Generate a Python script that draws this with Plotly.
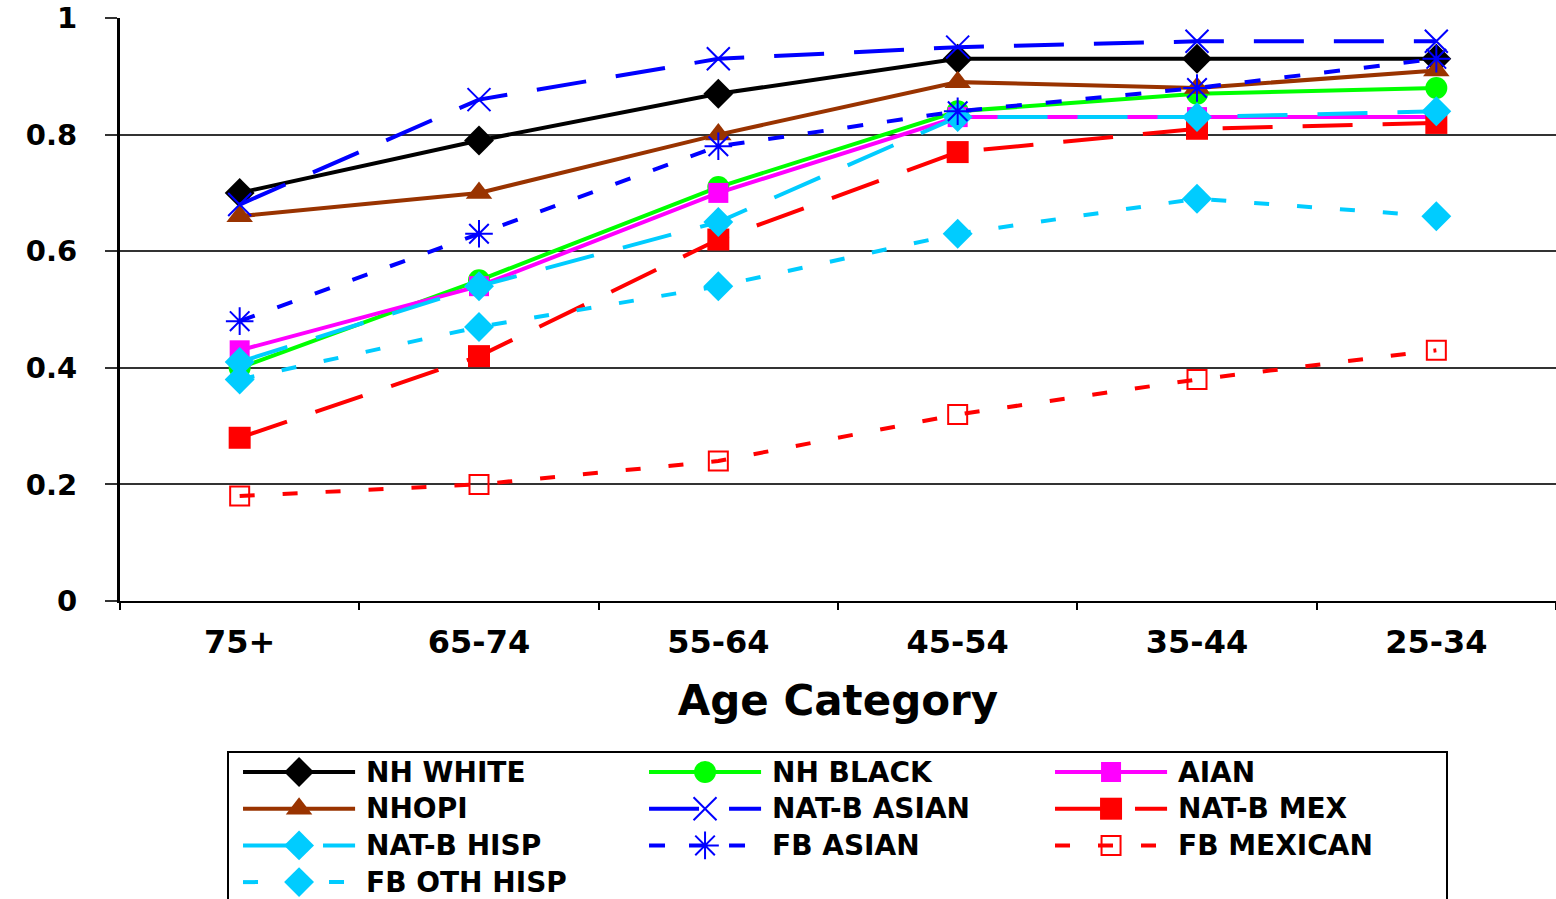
import plotly.graph_objects as go

# Age categories (oldest to youngest)
age_categories = ["75+", "65-74", "55-64", "45-54", "35-44", "25-34"]

# Share by group across age categories
nh_white    = [0.70, 0.79, 0.87, 0.93, 0.93, 0.93]
nh_black    = [0.40, 0.55, 0.71, 0.84, 0.87, 0.88]
aian        = [0.43, 0.54, 0.70, 0.83, 0.83, 0.83]
nhopi       = [0.66, 0.70, 0.80, 0.89, 0.88, 0.91]
natb_asian  = [0.68, 0.86, 0.93, 0.95, 0.96, 0.96]
natb_mex    = [0.28, 0.42, 0.62, 0.77, 0.81, 0.82]
natb_hisp   = [0.41, 0.54, 0.65, 0.83, 0.83, 0.84]
fb_asian    = [0.48, 0.63, 0.78, 0.84, 0.88, 0.93]
fb_mexican  = [0.18, 0.20, 0.24, 0.32, 0.38, 0.43]
fb_oth_hisp = [0.38, 0.47, 0.54, 0.63, 0.69, 0.66]

y_ticks = [0, 0.2, 0.4, 0.6, 0.8, 1]
y_tick_text = ["0", "0.2", "0.4", "0.6", "0.8", "1"]

LONG = "50px,30px"
SHORT_A = "16px,24px"
SHORT_B = "15px,28px"

series = [
    dict(name="NH WHITE", y=nh_white, color="#000000", dash="solid", symbol="diamond", size=23, open=False),
    dict(name="NH BLACK", y=nh_black, color="#00FF00", dash="solid", symbol="circle", size=22, open=False),
    dict(name="AIAN", y=aian, color="#FF00FF", dash="solid", symbol="square", size=20, open=False),
    dict(name="NHOPI", y=nhopi, color="#993300", dash="solid", symbol="triangle-up", size=23, open=False),
    dict(name="NAT-B ASIAN", y=natb_asian, color="#0000FF", dash=LONG, symbol="x-thin-open", size=23, open=True),
    dict(name="NAT-B MEX", y=natb_mex, color="#FF0000", dash=LONG, symbol="square", size=22, open=False),
    dict(name="NAT-B HISP", y=natb_hisp, color="#00CCFF", dash=LONG, symbol="diamond", size=23, open=False),
    dict(name="FB ASIAN", y=fb_asian, color="#0000FF", dash=SHORT_A, symbol="asterisk-open", size=23, open=True),
    dict(name="FB MEXICAN", y=fb_mexican, color="#FF0000", dash=SHORT_B, symbol="square-open", size=19, open=True),
    dict(name="FB OTH HISP", y=fb_oth_hisp, color="#00CCFF", dash=SHORT_B, symbol="diamond", size=23, open=False),
]

FONT = "DejaVu Sans"

fig = go.Figure()


def marker_style(s):
    if s["open"]:
        return dict(symbol=s["symbol"], size=s["size"], color=s["color"],
                    line=dict(color=s["color"], width=2))
    return dict(symbol=s["symbol"], size=s["size"], color=s["color"],
                line=dict(width=0))


for s in series:
    fig.add_trace(go.Scatter(
        x=age_categories, y=s["y"], name=s["name"], mode="lines+markers",
        line=dict(color=s["color"], width=4, dash=s["dash"]),
        marker=marker_style(s), showlegend=False, cliponaxis=False,
    ))

# Legend block drawn on its own hidden axes: 3 columns x 4 rows
n_cols = 3
sym_start, sym_end, text_start = 0.037, 0.313, 0.335
for i, s in enumerate(series):
    col, row = i % n_cols, i // n_cols
    x0, x1 = col + sym_start, col + sym_end
    fig.add_trace(go.Scatter(
        x=[x0, x1], y=[row, row], mode="lines", xaxis="x2", yaxis="y2",
        line=dict(color=s["color"], width=4, dash=s["dash"]),
        showlegend=False, hoverinfo="skip",
    ))
    fig.add_trace(go.Scatter(
        x=[(x0 + x1) / 2], y=[row], mode="markers", xaxis="x2", yaxis="y2",
        marker=marker_style(s), showlegend=False, hoverinfo="skip",
    ))
    fig.add_annotation(
        x=col + text_start, y=row, xref="x2", yref="y2", text=s["name"],
        showarrow=False, xanchor="left", yanchor="middle",
        font=dict(family=FONT, size=28, color="#000000", weight="bold"),
    )

fig.add_shape(type="rect", xref="x2 domain", yref="y2 domain",
              x0=0, x1=1, y0=-0.2, y1=1,
              line=dict(color="#000000", width=2), fillcolor="rgba(0,0,0,0)")

fig.update_layout(
    width=1556, height=899,
    margin=dict(l=120, r=0, t=18, b=0, autoexpand=False),
    paper_bgcolor="#FFFFFF", plot_bgcolor="#FFFFFF",
    font=dict(family=FONT, color="#000000"),
    showlegend=False,
    xaxis=dict(
        type="category", range=[-0.5, 5.5], domain=[0, 1],
        showline=True, linecolor="#000000", linewidth=2,
        ticks="outside", tickson="boundaries", ticklen=7, tickwidth=2, tickcolor="#000000",
        showgrid=False, zeroline=False, automargin=False,
        tickfont=dict(family=FONT, size=32, color="#000000", weight="bold"),
        ticklabelstandoff=12,
        title=dict(text="Age Category", standoff=25,
                   font=dict(family=FONT, size=42, color="#000000", weight="bold")),
        anchor="y",
    ),
    yaxis=dict(
        range=[0, 1], domain=[298 / 881, 1],
        tickvals=y_ticks, ticktext=y_tick_text,
        showline=True, linecolor="#000000", linewidth=3,
        ticks="outside", ticklen=12, tickwidth=1.5, tickcolor="#333333",
        showgrid=True, gridcolor="#333333", gridwidth=1.5,
        zeroline=False, automargin=False,
        tickfont=dict(family=FONT, size=29, color="#000000", weight="bold"),
        ticklabelstandoff=22,
        anchor="x",
    ),
    xaxis2=dict(domain=[108 / 1436, 1327 / 1436], range=[0, 3.0025],
                visible=False, anchor="y2", fixedrange=True, automargin=False),
    yaxis2=dict(domain=[0, 147 / 881], range=[3.46, -0.545],
                visible=False, anchor="x2", fixedrange=True, automargin=False),
)

fig.write_html("out.html")
